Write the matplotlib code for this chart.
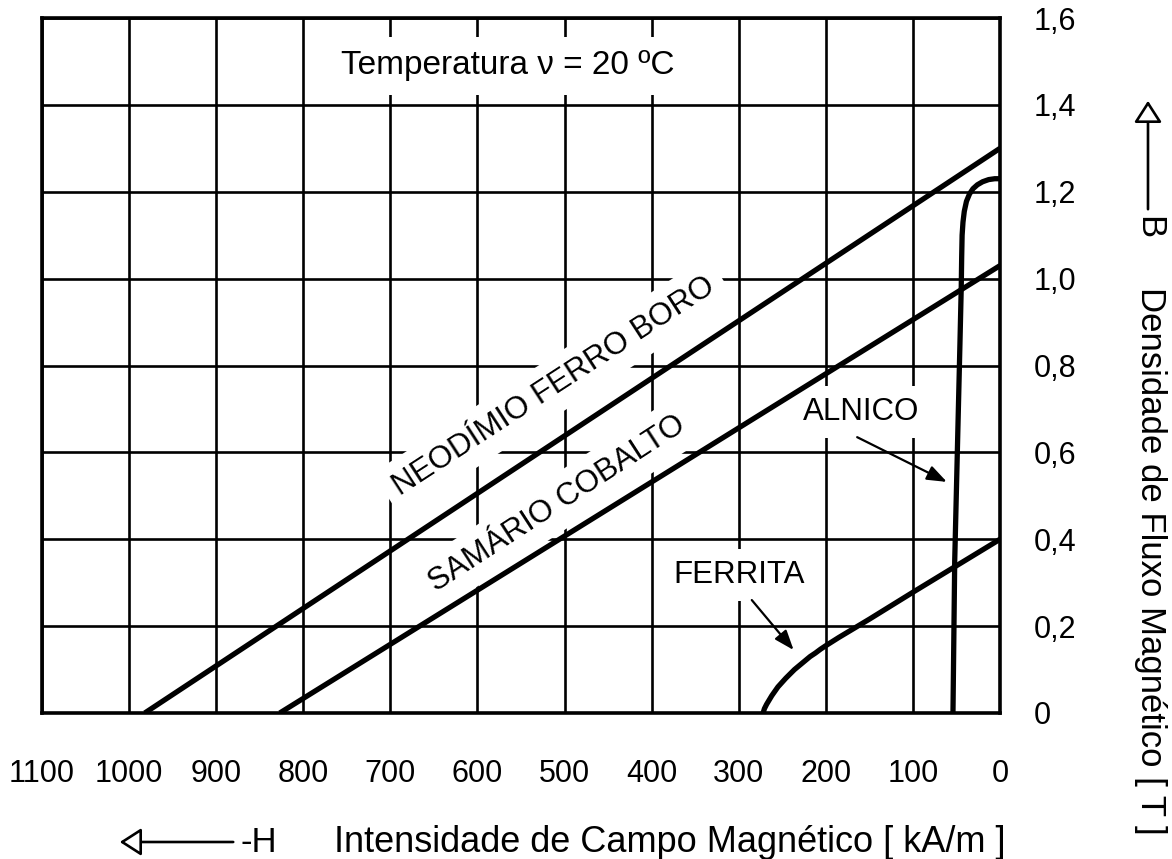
import numpy as np
import matplotlib
matplotlib.use("Agg")
import matplotlib.pyplot as plt
from matplotlib.patches import FancyArrowPatch

plt.rcParams['font.family'] = ['Liberation Sans', 'DejaVu Sans']

# ---- data (H in kA/m, B in T) ----
neo_H = [982, 0]
neo_B = [0.0, 1.30]
sam_H = [827, 0]
sam_B = [0.0, 1.03]
alnico_H = [54, 52, 49, 46, 44.5, 44, 43.5, 42.5, 41, 38.5, 35, 31, 26, 20, 13, 6, 0]
alnico_B = [0.0, 0.35, 0.6, 0.85, 0.98, 1.05, 1.10, 1.13, 1.155, 1.178, 1.195, 1.207, 1.216, 1.223, 1.228, 1.23, 1.23]
ferrita_H = [272, 270.5, 268, 265, 262, 258.5, 255, 250.5, 246, 241, 236, 230, 224, 218, 212, 206, 200, 185, 165, 150, 100, 50, 0]
ferrita_B = [0.0, 0.01, 0.02, 0.03, 0.04, 0.05, 0.06, 0.07, 0.08, 0.09, 0.10, 0.11, 0.12, 0.13, 0.138, 0.147, 0.155, 0.174, 0.198, 0.216, 0.278, 0.339, 0.40]

x_ticks = list(range(0, 1101, 100))
x_labels = [str(v) for v in x_ticks]
y_ticks = [0, 0.2, 0.4, 0.6, 0.8, 1.0, 1.2, 1.4, 1.6]
y_labels = ['0', '0,2', '0,4', '0,6', '0,8', '1,0', '1,2', '1,4', '1,6']

W, H = 1172, 859
fig = plt.figure(figsize=(W / 100, H / 100), dpi=100)
fig.patch.set_facecolor('white')


def fx(px):
    return px / W


def fy(py):
    return 1 - py / H


ax = fig.add_axes([fx(42), fy(713), fx(1000) - fx(42), fy(18) - fy(713)])
ax.set_xlim(1100, 0)
ax.set_ylim(0, 1.6)
ax.set_xticks(x_ticks)
ax.set_xticklabels(x_labels, fontsize=22)
ax.set_yticks(y_ticks)
ax.set_yticklabels(y_labels, fontsize=22, ha='left')
ax.yaxis.tick_right()
ax.tick_params(axis='both', length=0)
ax.tick_params(axis='x', pad=33)
ax.tick_params(axis='y', pad=24)
ax.grid(True, color='black', lw=1.9, zorder=1)
ax.set_axisbelow(True)
for s in ax.spines.values():
    s.set_linewidth(2.6)
    s.set_zorder(6)

lw = 3.8
ax.plot(neo_H, neo_B, color='black', lw=lw, zorder=5, solid_capstyle='butt')
ax.plot(sam_H, sam_B, color='black', lw=lw, zorder=5, solid_capstyle='butt')
ax.plot(alnico_H, alnico_B, color='black', lw=lw, zorder=5, solid_joinstyle='round')
ax.plot(ferrita_H, ferrita_B, color='black', lw=lw, zorder=5, solid_joinstyle='round')

box = dict(boxstyle='square,pad=0.35', fc='white', ec='none')
ax.text(565, 1.49, 'Temperatura ν = 20 ºC', fontsize=24, ha='center', va='center',
        bbox=dict(boxstyle='square,pad=0.4', fc='white', ec='none'), zorder=3)
ax.text(512, 0.752, 'NEODÍMIO FERRO BORO', fontsize=22.5, ha='center', va='center',
        rotation=33, rotation_mode='anchor', bbox=box, zorder=3)
ax.text(509, 0.481, 'SAMÁRIO COBALTO', fontsize=22.5, ha='center', va='center',
        rotation=33, rotation_mode='anchor', bbox=box, zorder=3)
ax.text(159, 0.693, 'ALNICO', fontsize=22.5, ha='center', va='center', bbox=box, zorder=3)
ax.text(300, 0.318, 'FERRITA', fontsize=22.5, ha='center', va='center', bbox=box, zorder=3)

ax.annotate('', xy=(61, 0.532), xytext=(164, 0.635),
            arrowprops=dict(arrowstyle='-|>,head_length=1.2,head_width=0.45',
                            color='black', lw=1.6, shrinkA=0, shrinkB=0), zorder=4)
ax.annotate('', xy=(237, 0.145), xytext=(285, 0.26),
            arrowprops=dict(arrowstyle='-|>,head_length=1.2,head_width=0.45',
                            color='black', lw=1.6, shrinkA=0, shrinkB=0), zorder=4)

# bottom axis label with arrow
fig.patches.append(FancyArrowPatch((fx(236), fy(842)), (fx(117), fy(842)),
                                   transform=fig.transFigure,
                                   arrowstyle='-|>,head_length=7,head_width=4.5',
                                   fc='white', ec='black', lw=1.9, mutation_scale=1.9))
fig.text(fx(240), fy(842), '-H', fontsize=25, ha='left', va='center')
fig.text(fx(334), fy(842), 'Intensidade de Campo Magnético [ kA/m ]', fontsize=26,
         ha='left', va='center')

# right axis label with arrow
fig.patches.append(FancyArrowPatch((fx(1148), fy(212)), (fx(1148), fy(98)),
                                   transform=fig.transFigure,
                                   arrowstyle='-|>,head_length=7,head_width=4.5',
                                   fc='white', ec='black', lw=1.9, mutation_scale=1.9))
fig.text(fx(1149), fy(216), 'B', fontsize=25, ha='center', va='top', rotation=-90)
fig.text(fx(1150), fy(287), 'Densidade de Fluxo Magnético [ T ]', fontsize=25,
         ha='center', va='top', rotation=-90)

fig.savefig('out.png', dpi=100, facecolor='white')
